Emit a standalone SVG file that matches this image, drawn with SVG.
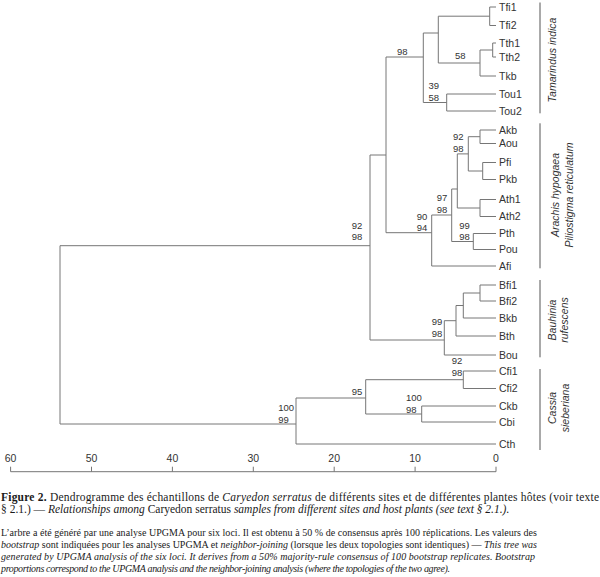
<svg xmlns="http://www.w3.org/2000/svg" width="600" height="577" viewBox="0 0 600 577">
<style>
  .br{fill:none;stroke:#767676;stroke-width:1}
  .bar{fill:none;stroke:#555;stroke-width:1}
  .leaf{font-family:"Liberation Sans",Arial,sans-serif;font-size:10.5px;fill:#333}
  .bs{font-family:"Liberation Sans",Arial,sans-serif;font-size:9.5px;fill:#333}
  .ax{font-family:"Liberation Sans",Arial,sans-serif;font-size:10.5px;fill:#333;text-anchor:middle}
  .grp{font-family:"Liberation Sans",Arial,sans-serif;font-size:10.5px;font-style:italic;fill:#333;text-anchor:middle}
  .cap{font-family:"Liberation Serif","Times New Roman",serif;font-size:11.5px;fill:#1a1a1a}
  .par{font-family:"Liberation Serif","Times New Roman",serif;font-size:10px;fill:#1a1a1a}
  .i{font-style:italic}
  .b{font-weight:bold}
</style>
<rect width="600" height="577" fill="#fff"/>

<g id="connectors">
  <path class="br" d="M370,245.7 H60 V424 H296"/>
  <path class="br" d="M386,155 H370 V340 H444.3"/>
  <path class="br" d="M423.3,57 H386 V232.7 H431.7"/>
  <path class="br" d="M438.3,33 H423.3 V102.5 H446.7"/>
  <path class="br" d="M489.7,16.2 H438.3 V63 H480"/>
  <path class="br" d="M496,7 H489.7 V25.5 H496"/>
  <path class="br" d="M492.7,50 H480 V76 H496"/>
  <path class="br" d="M496,43 H492.7 V57 H496"/>
  <path class="br" d="M496,94 H446.7 V111 H496"/>
  <path class="br" d="M451.7,215 H431.7 V266 H496"/>
  <path class="br" d="M457.3,189 H451.7 V241.5 H473.3"/>
  <path class="br" d="M496,233.5 H473.3 V249.5 H496"/>
  <path class="br" d="M468.3,153.9 H457.3 V208 H480"/>
  <path class="br" d="M496,199.5 H480 V216.5 H496"/>
  <path class="br" d="M480,136.7 H468.3 V171 H482.7"/>
  <path class="br" d="M496,130 H480 V143.5 H496"/>
  <path class="br" d="M496,162.5 H482.7 V179.5 H496"/>
  <path class="br" d="M456,320.7 H444.3 V355 H496"/>
  <path class="br" d="M463.3,305.5 H456 V336 H496"/>
  <path class="br" d="M480,293 H463.3 V318 H496"/>
  <path class="br" d="M496,285 H480 V301 H496"/>
  <path class="br" d="M365.7,398 H296 V444 H496"/>
  <path class="br" d="M463.3,379.7 H365.7 V414 H421.7"/>
  <path class="br" d="M496,371 H463.3 V388.5 H496"/>
  <path class="br" d="M496,406 H421.7 V422 H496"/>
</g>

<g id="leaves">
  <g id="n-Tfi1"><text class="leaf" x="499" y="10.8">Tfi1</text></g>
  <g id="n-Tfi2"><text class="leaf" x="499" y="29.3">Tfi2</text></g>
  <g id="n-Tth1"><text class="leaf" x="499" y="46.8">Tth1</text></g>
  <g id="n-Tth2"><text class="leaf" x="499" y="60.8">Tth2</text></g>
  <g id="n-Tkb"><text class="leaf" x="499" y="79.8">Tkb</text></g>
  <g id="n-Tou1"><text class="leaf" x="499" y="97.8">Tou1</text></g>
  <g id="n-Tou2"><text class="leaf" x="499" y="114.8">Tou2</text></g>
  <g id="n-Akb"><text class="leaf" x="499" y="133.8">Akb</text></g>
  <g id="n-Aou"><text class="leaf" x="499" y="147.3">Aou</text></g>
  <g id="n-Pfi"><text class="leaf" x="499" y="166.3">Pfi</text></g>
  <g id="n-Pkb"><text class="leaf" x="499" y="183.3">Pkb</text></g>
  <g id="n-Ath1"><text class="leaf" x="499" y="203.3">Ath1</text></g>
  <g id="n-Ath2"><text class="leaf" x="499" y="220.3">Ath2</text></g>
  <g id="n-Pth"><text class="leaf" x="499" y="237.3">Pth</text></g>
  <g id="n-Pou"><text class="leaf" x="499" y="253.3">Pou</text></g>
  <g id="n-Afi"><text class="leaf" x="499" y="269.8">Afi</text></g>
  <g id="n-Bfi1"><text class="leaf" x="499" y="288.8">Bfi1</text></g>
  <g id="n-Bfi2"><text class="leaf" x="499" y="304.8">Bfi2</text></g>
  <g id="n-Bkb"><text class="leaf" x="499" y="321.8">Bkb</text></g>
  <g id="n-Bth"><text class="leaf" x="499" y="339.8">Bth</text></g>
  <g id="n-Bou"><text class="leaf" x="499" y="358.8">Bou</text></g>
  <g id="n-Cfi1"><text class="leaf" x="499" y="374.8">Cfi1</text></g>
  <g id="n-Cfi2"><text class="leaf" x="499" y="392.3">Cfi2</text></g>
  <g id="n-Ckb"><text class="leaf" x="499" y="409.8">Ckb</text></g>
  <g id="n-Cbi"><text class="leaf" x="499" y="425.8">Cbi</text></g>
  <g id="n-Cth"><text class="leaf" x="499" y="447.8">Cth</text></g>
</g>

<g id="bootstrap">
  <g id="bs-T"><text class="bs" x="397" y="55">98</text></g>
  <g id="bs-Tth"><text class="bs" x="455" y="59.3">58</text></g>
  <g id="bs-Tou"><text class="bs" x="428.5" y="89">39</text><text class="bs" x="428.5" y="100.5">58</text></g>
  <g id="bs-N4"><text class="bs" x="453" y="140">92</text><text class="bs" x="453" y="151.5">98</text></g>
  <g id="bs-N2"><text class="bs" x="436.7" y="201">97</text><text class="bs" x="436.7" y="212.5">98</text></g>
  <g id="bs-N1"><text class="bs" x="416.7" y="219.5">90</text><text class="bs" x="416.7" y="230.7">94</text></g>
  <g id="bs-P"><text class="bs" x="459.3" y="229.3">99</text><text class="bs" x="459.3" y="240">98</text></g>
  <g id="bs-up"><text class="bs" x="351.7" y="229">92</text><text class="bs" x="351.7" y="240">98</text></g>
  <g id="bs-B"><text class="bs" x="431.7" y="325.3">99</text><text class="bs" x="431.7" y="336.7">98</text></g>
  <g id="bs-Cfi"><text class="bs" x="451.7" y="364.3">92</text><text class="bs" x="451.7" y="376">98</text></g>
  <g id="bs-C95"><text class="bs" x="351.7" y="395">95</text></g>
  <g id="bs-Ck"><text class="bs" x="406" y="401">100</text><text class="bs" x="406" y="412.7">98</text></g>
  <g id="bs-C"><text class="bs" x="278.3" y="410.7">100</text><text class="bs" x="278.3" y="422.7">99</text></g>
</g>

<g id="groups">
  <g id="g-tamarindus">
    <line class="bar" x1="540" y1="2.5" x2="540" y2="113.3"/>
    <text class="grp" transform="translate(552,60) rotate(-90)" y="3.7">Tamarindus indica</text>
  </g>
  <g id="g-arachis">
    <line class="bar" x1="540" y1="123.3" x2="540" y2="268.3"/>
    <text class="grp" transform="translate(555,195) rotate(-90)" y="3.7">Arachis hypogaea</text>
    <text class="grp" transform="translate(569,195) rotate(-90)" y="3.7">Piliostigma reticulatum</text>
  </g>
  <g id="g-bauhinia">
    <line class="bar" x1="540" y1="280" x2="540" y2="357.3"/>
    <text class="grp" transform="translate(552.5,320) rotate(-90)" y="3.7">Bauhinia</text>
    <text class="grp" transform="translate(564.5,320) rotate(-90)" y="3.7">rufescens</text>
  </g>
  <g id="g-cassia">
    <line class="bar" x1="540" y1="369" x2="540" y2="450"/>
    <text class="grp" transform="translate(552.5,408) rotate(-90)" y="3.7">Cassia</text>
    <text class="grp" transform="translate(565,408) rotate(-90)" y="3.7">sieberiana</text>
  </g>
</g>

<g id="axis">
  <path class="br" d="M10.6,471.7 H496 M10.6,466.7 V471.7 M91.5,466.7 V471.7 M172.4,466.7 V471.7 M253.3,466.7 V471.7 M334.2,466.7 V471.7 M415.1,466.7 V471.7 M496,466.7 V471.7"/>
  <text class="ax" x="10.6" y="461.7">60</text>
  <text class="ax" x="91.5" y="461.7">50</text>
  <text class="ax" x="172.4" y="461.7">40</text>
  <text class="ax" x="253.3" y="461.7">30</text>
  <text class="ax" x="334.2" y="461.7">20</text>
  <text class="ax" x="415.1" y="461.7">10</text>
  <text class="ax" x="496" y="461.7">0</text>
</g>

<g id="caption">
  <text class="cap" x="1" y="500.5" textLength="598" lengthAdjust="spacing"><tspan class="b">Figure 2.</tspan> Dendrogramme des échantillons de <tspan class="i">Caryedon serratus</tspan> de différents sites et de différentes plantes hôtes (voir texte</text>
  <text class="cap" x="1" y="512.5">§ 2.1.) — <tspan class="i">Relationships among</tspan> Caryedon serratus <tspan class="i">samples from different sites and host plants (see text § 2.1.).</tspan></text>
  <text class="par" x="1" y="535.5" textLength="536" lengthAdjust="spacing">L’arbre a été généré par une analyse UPGMA pour six loci. Il est obtenu à 50 % de consensus après 100 réplications. Les valeurs des</text>
  <text class="par" x="1" y="547.8" textLength="536" lengthAdjust="spacing"><tspan class="i">bootstrap</tspan> sont indiquées pour les analyses UPGMA et <tspan class="i">neighbor-joining</tspan> (lorsque les deux topologies sont identiques) — <tspan class="i">This tree was</tspan></text>
  <text class="par i" x="1" y="560" textLength="534" lengthAdjust="spacing">generated by UPGMA analysis of the six loci. It derives from a 50% majority-rule consensus of 100 bootstrap replicates. Bootstrap</text>
  <text class="par i" x="1" y="572.3" textLength="449" lengthAdjust="spacing">proportions correspond to the UPGMA analysis and the neighbor-joining analysis (where the topologies of the two agree).</text>
</g>
</svg>
